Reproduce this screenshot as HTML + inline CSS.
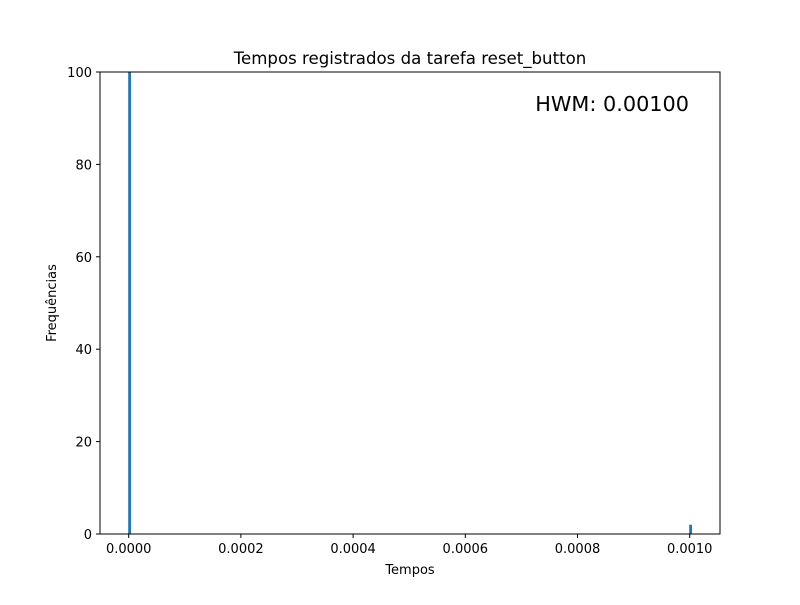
<!DOCTYPE html>
<html><head><meta charset="utf-8"><style>
body{margin:0;background:#fff}
svg text{font-family:"DejaVu Sans","Liberation Sans",sans-serif;fill:#000}
</style></head><body>
<svg width="800" height="600">
<defs><clipPath id="c"><rect x="100" y="72" width="620" height="462"/></clipPath></defs>
<rect width="800" height="600" fill="#fff"/>
<g id="bars" clip-path="url(#c)"></g>
<g id="axes"></g>
<rect x="100" y="72" width="620" height="462" fill="none" stroke="#000" stroke-width="1"/>
<text x="410" y="64" text-anchor="middle" font-size="16.6">Tempos registrados da tarefa reset_button</text>
<text x="410" y="574" text-anchor="middle" font-size="13">Tempos</text>
<text transform="translate(56,303) rotate(-90)" text-anchor="middle" font-size="13">Frequências</text>
<text x="689" y="111" text-anchor="end" font-size="20.8">HWM: 0.00100</text>
</svg>
<script>
const binStarts=[0,0.001];
const counts=[198,2];
const binWidth=0.000005;
const xTicks=[0,0.0002,0.0004,0.0006,0.0008,0.0010];
const xTickLabels=["0.0000","0.0002","0.0004","0.0006","0.0008","0.0010"];
const yTicks=[0,20,40,60,80,100];
const NS="http://www.w3.org/2000/svg";
const x=v=>128.7+v*561000;
const y=v=>534-v/100*462;
const bars=document.getElementById('bars'),axes=document.getElementById('axes');
function mk(t,a,p){const e=document.createElementNS(NS,t);for(const k in a)e.setAttribute(k,a[k]);p.appendChild(e);return e;}
binStarts.forEach((b,i)=>{
 const r=mk('rect',{x:x(b)-0.5,y:y(counts[i]),width:x(b+binWidth)-x(b),height:y(0)-y(counts[i]),fill:'#1f77b4'},bars);
 
 
});
xTicks.forEach((v,i)=>{
 const l=mk('line',{x1:x(v),x2:x(v),y1:534,y2:538,stroke:'#000'},axes);
 
 
 const t=mk('text',{x:x(v),y:553,'text-anchor':'middle','font-size':13},axes);t.textContent=xTickLabels[i];
 
 
});
yTicks.forEach(v=>{
 const l=mk('line',{x1:96,x2:100,y1:y(v),y2:y(v),stroke:'#000'},axes);
 
 
 const t=mk('text',{x:92,y:y(v)+5,'text-anchor':'end','font-size':13},axes);t.textContent=v;
 
 
});
</script>
</body></html>
